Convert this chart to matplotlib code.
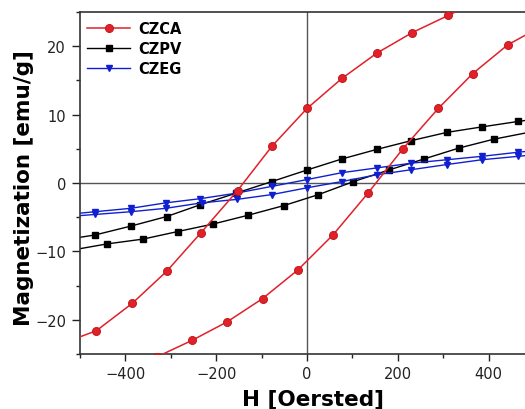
import matplotlib
matplotlib.use("Agg")
import matplotlib.pyplot as plt
from matplotlib.ticker import MultipleLocator

# CZCA (red circles)
czca_up_H = [389, 311, 232, 154, 77, 0, -77, -153, -234, -309, -385, -464, -541]
czca_up_M = [27.0, 24.5, 22.0, 19.0, 15.3, 10.9, 5.4, -1.1, -7.3, -12.9, -17.6, -21.6, -23.5]
czca_dn_H = [-408, -330, -253, -176, -98, -20, 57, 134, 211, 289, 365, 442, 519]
czca_dn_M = [-28.0, -25.4, -23.0, -20.3, -16.9, -12.7, -7.6, -1.5, 5.0, 10.9, 16.0, 20.2, 23.0]

# CZPV (black squares)
czpv_up_H = [543, 465, 385, 308, 230, 153, 76, 0, -78, -157, -236, -309, -388, -467, -545]
czpv_up_M = [9.7, 9.0, 8.2, 7.4, 6.2, 4.9, 3.5, 1.9, 0.2, -1.5, -3.2, -4.9, -6.3, -7.6, -8.4]
czpv_dn_H = [-517, -440, -361, -285, -207, -129, -51, 25, 102, 180, 257, 334, 411, 488]
czpv_dn_M = [-9.8, -8.9, -8.2, -7.1, -6.0, -4.7, -3.3, -1.7, 0.2, 1.9, 3.5, 5.1, 6.4, 7.4]

# CZEG (blue triangles)
czeg_up_H = [543, 465, 385, 308, 230, 153, 76, 0, -78, -157, -236, -311, -388, -467, -545]
czeg_up_M = [5.0, 4.5, 3.9, 3.4, 2.9, 2.2, 1.5, 0.5, -0.5, -1.5, -2.3, -2.9, -3.7, -4.2, -4.7]
czeg_dn_H = [-545, -467, -388, -311, -232, -155, -78, 0, 76, 153, 230, 308, 385, 465, 543]
czeg_dn_M = [-5.0, -4.6, -4.2, -3.7, -2.9, -2.4, -1.7, -0.7, 0.2, 1.2, 1.95, 2.7, 3.4, 3.9, 4.4]

xlim = (-500, 480)
ylim = (-25, 25)
xticks = [-400, -200, 0, 200, 400]
yticks = [-20, -10, 0, 10, 20]

plt.rcParams['font.family'] = ['DejaVu Sans']
fig = plt.figure(figsize=(5.25, 4.1), dpi=100)
ax = fig.add_axes([80/525, 55/410, 445/525, 342/410])

red = '#e0202a'
blue = '#1020d0'

ax.axhline(0, color='#555555', lw=1.0, zorder=1)
ax.axvline(0, color='#555555', lw=1.0, zorder=1)

ax.plot(czca_up_H, czca_up_M, color=red, lw=1.1, marker='o', ms=5.8,
        mfc=red, mec='#c01010', mew=0.6, label='CZCA', zorder=3)
ax.plot(czca_dn_H, czca_dn_M, color=red, lw=1.1, marker='o', ms=5.8,
        mfc=red, mec='#c01010', mew=0.6, zorder=3)
ax.plot(czpv_up_H, czpv_up_M, color='black', lw=1.0, marker='s', ms=3.8,
        label='CZPV', zorder=2)
ax.plot(czpv_dn_H, czpv_dn_M, color='black', lw=1.0, marker='s', ms=3.8, zorder=2)
ax.plot(czeg_up_H, czeg_up_M, color=blue, lw=1.0, marker='v', ms=5,
        label='CZEG', zorder=2)
ax.plot(czeg_dn_H, czeg_dn_M, color=blue, lw=1.0, marker='v', ms=5, zorder=2)

ax.set_xlim(*xlim)
ax.set_ylim(*ylim)
ax.set_xticks(xticks)
ax.set_yticks(yticks)
ax.xaxis.set_minor_locator(MultipleLocator(100))
ax.yaxis.set_minor_locator(MultipleLocator(5))
ax.tick_params(which='major', direction='out', length=5, width=1, labelsize=10.5,
               colors='#222222', pad=4)
ax.tick_params(which='minor', direction='out', length=3, width=1, colors='#222222')
ax.tick_params(axis='y', which='major', length=6)

for s in ['left', 'top', 'bottom']:
    ax.spines[s].set_color('#333333')
    ax.spines[s].set_linewidth(1.2)
ax.spines['right'].set_visible(False)

ax.set_xlabel('H [Oersted]', fontsize=15.5, fontweight='bold')
ax.set_ylabel('Magnetization [emu/g]', fontsize=15.5, fontweight='bold')
ax.xaxis.set_label_coords((313 - 80) / 445, (355 - 389) / 342)
ax.yaxis.set_label_coords((34 - 80) / 445, (355 - 188) / 342)

leg = ax.legend(loc='upper left', bbox_to_anchor=(7/445, 1 - 9/342), frameon=False,
                borderaxespad=0, borderpad=0, handlelength=2.95, handletextpad=0.55,
                labelspacing=0.35, prop={'size': 10.5, 'weight': 'bold'})

fig.savefig('out.png', dpi=100)
